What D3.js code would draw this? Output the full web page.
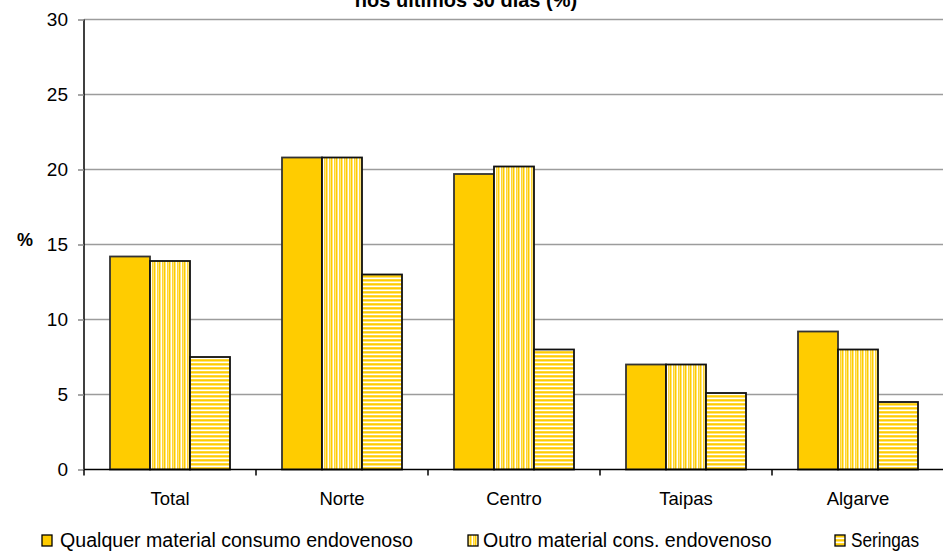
<!DOCTYPE html>
<html>
<head>
<meta charset="utf-8">
<script src="https://cdn.jsdelivr.net/npm/d3@7"></script>
<style>
  html, body { margin: 0; padding: 0; background: #fff; }
  svg { display: block; font-family: "Liberation Sans", Arial, sans-serif; }
</style>
</head>
<body>
<svg id="chart" width="943" height="552"></svg>
<script>
const categories = ["Total", "Norte", "Centro", "Taipas", "Algarve"];
const seriesNames = ["Qualquer material consumo endovenoso", "Outro material cons. endovenoso", "Seringas"];
const qualquer = [14.2, 20.8, 19.7, 7.0, 9.2];
const outro = [13.9, 20.8, 20.2, 7.0, 8.0];
const seringas = [7.5, 13.0, 8.0, 5.1, 4.5];
const yTicks = [0, 5, 10, 15, 20, 25, 30];
const titleText = "nos últimos 30 dias (%)";
const yLabel = "%";

const seriesValues = [qualquer, outro, seringas];

const svg = d3.select("#chart");
const defs = svg.append("defs");

// vertical stripes pattern
const pv = defs.append("pattern").attr("id", "vstripe").attr("patternUnits", "userSpaceOnUse")
  .attr("width", 5).attr("height", 4);
pv.append("rect").attr("width", 5).attr("height", 4).attr("fill", "#FFE57F");
pv.append("rect").attr("x", 0).attr("width", 1).attr("height", 4).attr("fill", "#FFCC00");
pv.append("rect").attr("x", 2).attr("width", 1).attr("height", 4).attr("fill", "#FFFFFF");
pv.append("rect").attr("x", 3).attr("width", 1).attr("height", 4).attr("fill", "#FFD633");

// horizontal stripes pattern
const ph = defs.append("pattern").attr("id", "hstripe").attr("patternUnits", "userSpaceOnUse")
  .attr("width", 4).attr("height", 4);
ph.append("rect").attr("width", 4).attr("height", 4).attr("fill", "#FFFFFF");
ph.append("rect").attr("y", 0).attr("width", 4).attr("height", 1).attr("fill", "#FFCC00");
ph.append("rect").attr("y", 1).attr("width", 4).attr("height", 1).attr("fill", "#FFE57F");
ph.append("rect").attr("y", 2).attr("width", 4).attr("height", 1).attr("fill", "#FFFFFF");
ph.append("rect").attr("y", 3).attr("width", 4).attr("height", 1).attr("fill", "#FFD633");

const fills = ["#FFCC00", "url(#vstripe)", "url(#hstripe)"];
const strokes = ["#333333", "#111111", "#111111"];

const plotLeft = 84, plotRight = 944, plotTop = 19.5, plotBottom = 469.5;

const y = d3.scaleLinear().domain([0, 30]).range([plotBottom, plotTop]);
const x = d3.scaleBand().domain(categories).range([plotLeft, plotRight]).paddingInner(0).paddingOuter(0);
const x1 = d3.scaleBand().domain(d3.range(seriesNames.length)).range([26, x.bandwidth() - 26]).padding(0);

// gridlines
svg.append("g").selectAll("line").data(yTicks.filter(d => d > 0)).join("line")
  .attr("x1", plotLeft).attr("x2", 943)
  .attr("y1", d => y(d)).attr("y2", d => y(d))
  .attr("stroke", "#9c9c9c").attr("stroke-width", 1.5);

// bars
const groups = svg.append("g").selectAll("g").data(categories).join("g")
  .attr("transform", d => `translate(${x(d)},0)`);
groups.selectAll("rect").data((c, i) => seriesValues.map((s, j) => ({ j, v: s[i] }))).join("rect")
  .attr("x", d => x1(d.j))
  .attr("width", x1.bandwidth())
  .attr("y", d => y(d.v))
  .attr("height", d => y(0) - y(d.v))
  .attr("fill", d => fills[d.j])
  .attr("stroke", d => strokes[d.j])
  .attr("stroke-width", 1.8);

// y axis
const yAxis = d3.axisLeft(y).tickValues(yTicks).tickSize(6).tickPadding(10);
const gy = svg.append("g").attr("transform", `translate(${plotLeft},0)`).call(yAxis);
gy.select(".domain").attr("stroke", "#000").attr("stroke-width", 1.5).attr("d", `M0,${plotTop}V${plotBottom}`);
gy.selectAll(".tick line").attr("stroke", "#888").attr("stroke-width", 1.5);
gy.selectAll(".tick text").attr("font-size", 19).attr("font-family", "Liberation Sans, Arial, sans-serif").attr("fill", "#000");

// x axis
const xAxis = d3.axisBottom(x).tickSize(0).tickPadding(22);
const gx = svg.append("g").attr("transform", `translate(0,${plotBottom})`).call(xAxis);
gx.select(".domain").attr("stroke", "#000").attr("stroke-width", 1.5).attr("d", `M${plotLeft},0H943`);
gx.selectAll(".tick text").attr("font-size", 18.5).attr("font-family", "Liberation Sans, Arial, sans-serif").attr("fill", "#000");
// boundary ticks
const bounds = categories.map(c => x(c)).concat([x(categories[categories.length - 1]) + x.bandwidth()]);
gx.append("g").selectAll("line").data(bounds.filter(b => b < 943)).join("line")
  .attr("x1", d => d).attr("x2", d => d).attr("y1", 0).attr("y2", 6)
  .attr("stroke", "#000").attr("stroke-width", 1.5);

// title (second line visible, cut at top as in reference)
svg.append("text").attr("x", 466).attr("y", 7).attr("text-anchor", "middle")
  .attr("font-size", 20).attr("font-weight", "bold").text(titleText);

// y label
svg.append("text").attr("x", 25).attr("y", 246).attr("text-anchor", "middle")
  .attr("font-size", 18).attr("font-weight", "bold").text(yLabel);

// legend
const legendPos = [{ sx: 42, tx: 60 }, { sx: 468, tx: 483 }, { sx: 835, tx: 851 }];
const lg = svg.append("g").selectAll("g").data(seriesNames).join("g");
lg.append("rect")
  .attr("x", (d, i) => legendPos[i].sx).attr("y", 535)
  .attr("width", 10).attr("height", 11)
  .attr("fill", (d, i) => fills[i]).attr("stroke", "#000").attr("stroke-width", 1.3);
lg.append("text")
  .attr("x", (d, i) => legendPos[i].tx).attr("y", 547)
  .attr("font-size", 19.6).attr("fill", "#000")
  .attr("textLength", (d, i) => i === 2 ? 68 : null)
  .attr("lengthAdjust", "spacingAndGlyphs")
  .text(d => d);
</script>
</body>
</html>
